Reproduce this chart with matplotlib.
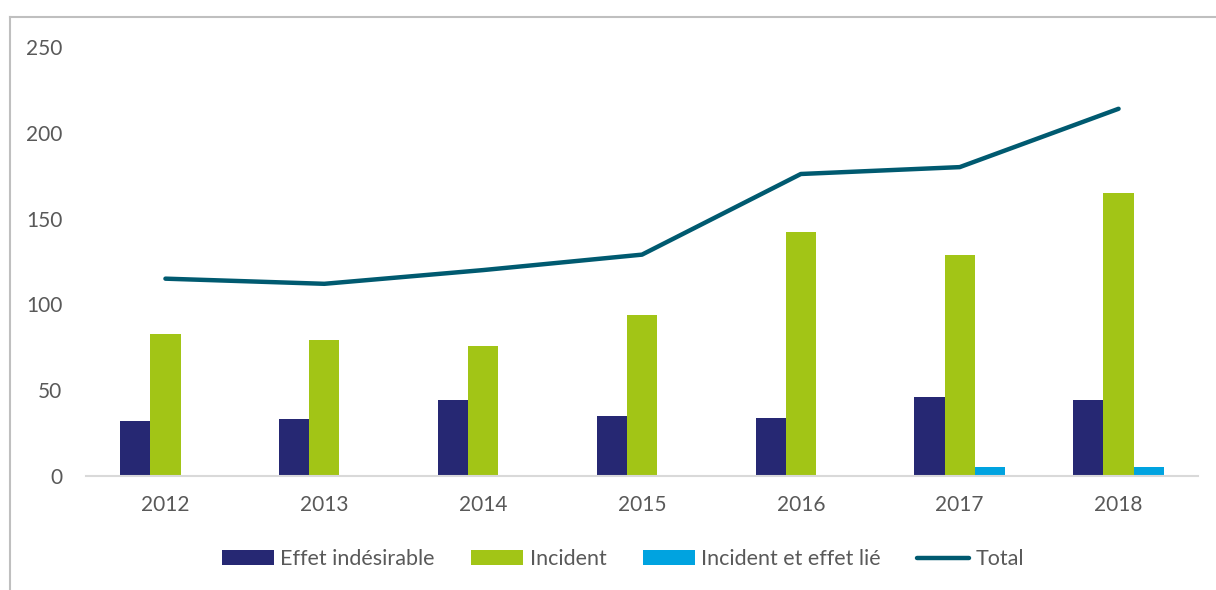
import numpy as np
import matplotlib.pyplot as plt
from matplotlib.lines import Line2D

plt.rcParams['font.family'] = ['Lato', 'DejaVu Sans']

years = ['2012', '2013', '2014', '2015', '2016', '2017', '2018']
effet = [32, 33, 44, 35, 34, 46, 44]
incident = [83, 79, 76, 94, 142, 129, 165]
incident_lie = [0, 0, 0, 0, 0, 5, 5]
total = [115, 112, 120, 129, 176, 180, 214]

c_effet = '#262873'
c_incident = '#a2c516'
c_lie = '#00a3e0'
c_total = '#005a70'
c_text = '#595959'

fig = plt.figure(figsize=(12.16, 5.9), dpi=100)
ax = fig.add_axes([86 / 1216, 1 - 476 / 590, 1112 / 1216, 429 / 590])

x = np.arange(len(years))
w = 0.19
b1 = ax.bar(x - w, effet, w, color=c_effet, label='Effet indésirable')
b2 = ax.bar(x, incident, w, color=c_incident, label='Incident')
b3 = ax.bar(x + w, incident_lie, w, color=c_lie, label='Incident et effet lié')
l1, = ax.plot(x, total, color=c_total, lw=3.2, solid_capstyle='round', label='Total')

ax.set_xlim(-0.5, len(years) - 0.5)
ax.set_ylim(0, 250)
ax.set_yticks(range(0, 251, 50))
ax.set_xticks(x, years)
ax.tick_params(axis='both', length=0, labelsize=15, labelcolor=c_text)
ax.tick_params(axis='y', pad=17)
ax.tick_params(axis='x', pad=14)
for s in ['top', 'right', 'left']:
    ax.spines[s].set_visible(False)
ax.spines['bottom'].set_color('#d9d9d9')
ax.spines['bottom'].set_linewidth(1.5)

leg = fig.legend([b1, b2, b3, l1],
                 ['Effet indésirable', 'Incident', 'Incident et effet lié', 'Total'],
                 loc='center', bbox_to_anchor=(623 / 1216, 1 - 559 / 590), ncol=4,
                 frameon=False, fontsize=15.5, handlelength=2.4, handleheight=0.65,
                 handletextpad=0.3, columnspacing=1.7)
for t in leg.get_texts():
    t.set_color(c_text)

# outer frame (top and left edges, the rest runs off the canvas)
x0, y0 = 10 / 1216, 1 - 17 / 590
fig.add_artist(Line2D([x0, 1.0], [y0, y0], transform=fig.transFigure,
                      color='#bfbfbf', lw=1.5))
fig.add_artist(Line2D([x0, x0], [0, y0], transform=fig.transFigure,
                      color='#bfbfbf', lw=1.5))

fig.savefig('out.png', dpi=100)
